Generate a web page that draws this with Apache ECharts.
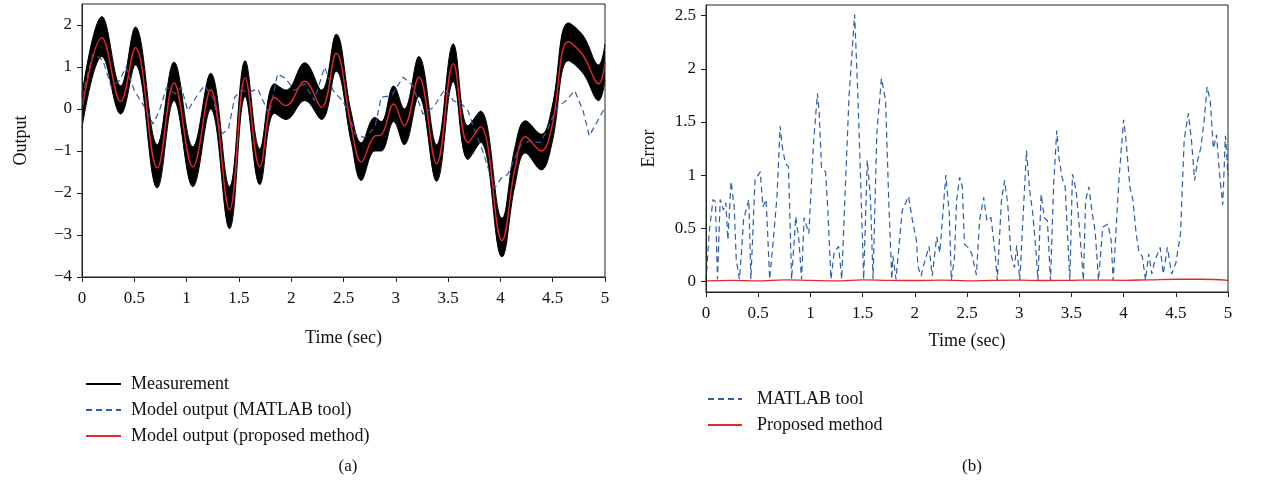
<!DOCTYPE html>
<html>
<head>
<meta charset="utf-8">
<script src="https://cdn.jsdelivr.net/npm/echarts@6/dist/echarts.min.js"></script>
<style>
  html, body { margin: 0; padding: 0; background: #fff; }
  #chart { width: 1269px; height: 490px; }
</style>
</head>
<body>
<div id="chart"></div>
<script>
// (a) key points of the proposed-method output and the measurement band around it
const tOut = [0, 0.19, 0.37, 0.51, 0.72, 0.88, 1.06, 1.23, 1.41, 1.56, 1.70, 1.84, 1.95, 2.13, 2.29, 2.43,
  2.575, 2.67, 2.80, 2.86, 2.98, 3.08, 3.22, 3.39, 3.55, 3.69, 3.81, 4.015, 4.14, 4.24, 4.39, 4.49,
  4.65, 4.79, 4.94, 5.0]
const proposedOut = [0, 1.70, 0.18, 1.46, -1.40, 0.62, -1.38, 0.46, -2.40, 0.74, -1.38, 0.28, 0.08, 0.66, 0.04, 1.32,
  -0.44, -1.26, -0.64, -0.62, 0.12, -0.40, 0.76, -1.30, 1.08, -0.80, -0.42, -3.13, -1.40, -0.66, -1.00, -0.44,
  1.60, 1.28, 0.60, 1.12]
const measHi = [0.35, 2.2, 0.55, 1.95, -0.85, 1.12, -0.9, 0.85, -1.85, 1.15, -0.95, 0.6, 0.45, 1.1, 0.45, 1.78,
  -0.1, -0.8, -0.2, -0.3, 0.55, 0.0, 1.25, -0.85, 1.55, -0.4, -0.05, -2.6, -0.9, -0.28, -0.6, 0.0,
  2.05, 1.75, 1.05, 1.55]
const measLo = [-0.45, 1.25, -0.12, 1.05, -1.88, 0.2, -1.85, 0.0, -2.85, 0.3, -1.8, -0.1, -0.25, 0.2, -0.25, 0.9,
  -0.8, -1.7, -1.0, -1.0, -0.3, -0.85, 0.3, -1.72, 0.65, -1.2, -0.8, -3.52, -1.8, -1.05, -1.45, -0.85,
  1.15, 0.85, 0.2, 0.7]

// (a) MATLAB tool model output
const tMatlab = [0, 0.105, 0.20, 0.28, 0.36, 0.42, 0.50, 0.60, 0.68, 0.74, 0.81, 0.89, 0.95, 1.01, 1.09, 1.17,
  1.25, 1.33, 1.40, 1.46, 1.52, 1.60, 1.68, 1.73, 1.79, 1.87, 1.95, 2.03, 2.13, 2.22, 2.32, 2.40, 2.49,
  2.54, 2.61, 2.70, 2.80, 2.86, 2.96, 3.07, 3.16, 3.26, 3.36, 3.47, 3.55, 3.63, 3.69, 3.75, 3.83, 3.945,
  4.01, 4.07, 4.14, 4.20, 4.28, 4.38, 4.46, 4.54, 4.63, 4.71, 4.79, 4.85, 4.93, 5.0]
const matlabOut = [0.28, 1.32, 1.16, 0.52, 0.68, 1.0, 0.44, 0.04, -0.36, -0.04, 0.52, 0.36, 0.52, -0.04, 0.28, 0.56,
  0.28, -0.6, -0.48, 0.28, 0.44, 0.40, 0.48, 0.2, -0.12, 0.84, 0.72, 0.44, 0.6, 0.2, 1.0, 0.44, 0.2,
  -0.04, -0.6, -0.68, -0.44, 0.28, 0.32, 0.76, 0.56, -0.12, 0.04, 0.48, 0.2, 0.12, -0.04, -0.48, -1.0, -1.88,
  -1.64, -1.56, -1.16, -0.84, -0.76, -0.8, -0.44, 0.04, 0.2, 0.44, -0.04, -0.64, -0.28, 0.04]

// (b) error of the MATLAB tool model
const tErr = [0, 0.03, 0.067, 0.09, 0.11, 0.136, 0.167, 0.19, 0.21, 0.24, 0.27, 0.29, 0.32, 0.34, 0.36, 0.41, 0.43,
  0.47, 0.52, 0.545, 0.576, 0.61, 0.65, 0.68, 0.71, 0.73, 0.76, 0.79, 0.82, 0.86, 0.89, 0.915, 0.94, 0.985,
  1.03, 1.067, 1.085, 1.106, 1.145, 1.167, 1.197, 1.227, 1.27, 1.30, 1.33, 1.37, 1.424, 1.455, 1.485, 1.51,
  1.545, 1.576, 1.60, 1.636, 1.68, 1.72, 1.75, 1.78, 1.79, 1.82, 1.88, 1.94, 1.976, 2.015, 2.03, 2.06, 2.09,
  2.136, 2.167, 2.21, 2.24, 2.297, 2.33, 2.35, 2.38, 2.40, 2.43, 2.455, 2.476, 2.51, 2.545, 2.59, 2.62, 2.66,
  2.69, 2.73, 2.77, 2.79, 2.83, 2.86, 2.89, 2.92, 2.955, 2.976, 3.006, 3.03, 3.07, 3.10, 3.13, 3.16, 3.18,
  3.21, 3.24, 3.27, 3.30, 3.33, 3.36, 3.38, 3.41, 3.44, 3.485, 3.51, 3.545, 3.576, 3.615, 3.636, 3.667,
  3.70, 3.727, 3.76, 3.80, 3.85, 3.88, 3.90, 3.955, 4.0, 4.02, 4.06, 4.09, 4.12, 4.145, 4.18, 4.21, 4.24,
  4.27, 4.30, 4.35, 4.38, 4.42, 4.46, 4.5, 4.545, 4.58, 4.62, 4.65, 4.68, 4.71, 4.74, 4.77, 4.80, 4.83,
  4.86, 4.89, 4.92, 4.95, 4.975, 5.0]
const errMatlab = [0, 0.45, 0.77, 0.75, 0.02, 0.77, 0.67, 0.74, 0.39, 0.94, 0.70, 0.2, 0.02, 0.27, 0.58, 0.77, 0.02,
  0.96, 1.03, 0.70, 0.77, 0.02, 0.45, 0.8, 1.46, 1.27, 1.11, 1.08, 0.02, 0.61, 0.39, 0.02, 0.6, 0.45,
  1.30, 1.77, 1.58, 1.07, 1.03, 0.67, 0.02, 0.27, 0.33, 0.02, 0.77, 1.74, 2.51, 1.74, 0.83, 0.02,
  1.14, 0.77, 0.02, 1.39, 1.91, 1.71, 0.77, 0.02, 0.24, 0.02, 0.67, 0.8, 0.58, 0.39, 0.14, 0.05, 0.17,
  0.33, 0.05, 0.42, 0.27, 1.0, 0.64, 0.01, 0.23, 0.76, 0.98, 0.89, 0.35, 0.32, 0.26, 0.06, 0.57, 0.79,
  0.57, 0.6, 0.26, 0.01, 0.76, 0.95, 0.73, 0.26, 0.13, 0.34, 0.01, 0.48, 1.23, 0.86, 0.64, 0.29, 0.01,
  0.82, 0.6, 0.57, 0.01, 0.92, 1.42, 1.17, 0.98, 0.89, 0.01, 1.01, 0.86, 0.51, 0.01, 0.76, 0.89,
  0.64, 0.48, 0.01, 0.51, 0.54, 0.39, 0.01, 0.95, 1.52, 1.36, 0.89, 0.76, 0.45, 0.29, 0.23, 0.01, 0.26,
  0.07, 0.2, 0.32, 0.07, 0.32, 0.07, 0.17, 0.45, 1.33, 1.58, 1.33, 0.95, 1.14, 1.26, 1.5, 1.83, 1.7,
  1.25, 1.38, 1.0, 0.72, 1.37, 1.0]

// (b) error of the proposed method
const tErrProposed = [0, 0.25, 0.5, 0.75, 1.0, 1.25, 1.5, 1.75, 2.0, 2.25, 2.5, 2.75, 3.0, 3.25, 3.5, 3.75,
  4.0, 4.25, 4.5, 4.75, 5.0]
const errProposed = [0.005, 0.01, 0.005, 0.015, 0.01, 0.005, 0.015, 0.01, 0.008, 0.012, 0.005, 0.01, 0.012,
  0.008, 0.01, 0.012, 0.01, 0.015, 0.02, 0.02, 0.01]

// tick labels
const timeTicks = [0, 0.5, 1, 1.5, 2, 2.5, 3, 3.5, 4, 4.5, 5]
const outputTicks = [-4, -3, -2, -1, 0, 1, 2]
const errorTicks = [0, 0.5, 1, 1.5, 2, 2.5]

const FONT = '"Liberation Serif", "DejaVu Serif", serif'
const BLUE = '#2d5dab'
const RED = '#e8262b'

function zip(xs, ys) {
  return xs.map((x, i) => [x, ys[i]])
}

function minusSign(v) {
  return String(v).replace('-', '\u2212')
}

function xAxisFor(gridIndex, nameGap) {
  return {
    type: 'value', gridIndex: gridIndex, min: 0, max: 5, interval: 0.5, z: 5,
    name: 'Time (sec)', nameLocation: 'middle', nameGap: nameGap,
    nameTextStyle: { fontFamily: FONT, fontSize: 18, color: '#111' },
    axisLine: { onZero: false, lineStyle: { color: '#222', width: 1 } },
    axisTick: { inside: false, length: 5, lineStyle: { color: '#222' }, customValues: timeTicks },
    axisLabel: { fontFamily: FONT, fontSize: 17, color: '#111', margin: 13, customValues: timeTicks },
    splitLine: { show: false }
  }
}

function yAxisFor(gridIndex, min, max, ticks, name, nameGap) {
  return {
    type: 'value', gridIndex: gridIndex, min: min, max: max, z: 5,
    name: name, nameLocation: 'middle', nameGap: nameGap,
    nameTextStyle: { fontFamily: FONT, fontSize: 18, color: '#111' },
    axisLine: { show: true, onZero: false, lineStyle: { color: '#222', width: 1 } },
    axisTick: { inside: false, length: 5, lineStyle: { color: '#222' }, customValues: ticks },
    axisLabel: { fontFamily: FONT, fontSize: 17, color: '#111', margin: 10, customValues: ticks, formatter: minusSign },
    splitLine: { show: false }
  }
}

const legendCommon = {
  orient: 'vertical', itemHeight: 14, itemGap: 8,
  itemStyle: { opacity: 0 },
  textStyle: { fontFamily: FONT, fontSize: 18, color: '#111' }
}

const chart = echarts.init(document.getElementById('chart'))

chart.setOption({
  animation: false,
  backgroundColor: '#fff',
  title: [
    { text: '(a)', left: 343, top: 453, textAlign: 'center', textStyle: { fontFamily: FONT, fontSize: 17, fontWeight: 'normal', color: '#111' } },
    { text: '(b)', left: 967, top: 453, textAlign: 'center', textStyle: { fontFamily: FONT, fontSize: 17, fontWeight: 'normal', color: '#111' } }
  ],
  grid: [
    { left: 82, top: 4, width: 523, height: 273, show: true, z: 5, borderColor: '#222', borderWidth: 1, backgroundColor: 'transparent' },
    { left: 706, top: 5, width: 522, height: 287, show: true, z: 5, borderColor: '#222', borderWidth: 1, backgroundColor: 'transparent' }
  ],
  xAxis: [xAxisFor(0, 52), xAxisFor(1, 40)],
  yAxis: [
    yAxisFor(0, -4, 2.5, outputTicks, 'Output', 52),
    yAxisFor(1, -0.1, 2.6, errorTicks, 'Error', 48)
  ],
  legend: [
    Object.assign({}, legendCommon, {
      left: 80, top: 370, itemWidth: 35,
      textStyle: Object.assign({}, legendCommon.textStyle, { padding: [0, 0, 0, 5] }),
      data: ['Measurement', 'Model output (MATLAB tool)', 'Model output (proposed method)']
    }),
    Object.assign({}, legendCommon, {
      left: 702, top: 385, itemWidth: 34,
      textStyle: Object.assign({}, legendCommon.textStyle, { padding: [0, 0, 0, 10] }),
      data: ['MATLAB tool', 'Proposed method']
    })
  ],
  series: [
    // measurement band: black fill under the upper edge, white fill under the lower edge
    {
      name: 'Measurement', type: 'line', xAxisIndex: 0, yAxisIndex: 0, z: 1,
      smooth: 0.4, showSymbol: false, symbol: 'none',
      lineStyle: { color: '#000', width: 1 }, itemStyle: { color: '#000' },
      areaStyle: { color: '#000', opacity: 1, origin: 'start' },
      data: zip(tOut, measHi)
    },
    {
      name: 'Measurement', type: 'line', xAxisIndex: 0, yAxisIndex: 0, z: 2,
      smooth: 0.4, showSymbol: false, symbol: 'none',
      lineStyle: { color: '#000', width: 1 }, itemStyle: { color: '#000' },
      areaStyle: { color: '#fff', opacity: 1, origin: 'start' },
      data: zip(tOut, measLo)
    },
    {
      name: 'Model output (MATLAB tool)', type: 'line', xAxisIndex: 0, yAxisIndex: 0, z: 3,
      showSymbol: false, symbol: 'none',
      lineStyle: { color: BLUE, width: 1.2, type: [6, 4] }, itemStyle: { color: BLUE },
      data: zip(tMatlab, matlabOut)
    },
    {
      name: 'Model output (proposed method)', type: 'line', xAxisIndex: 0, yAxisIndex: 0, z: 4,
      smooth: 0.4, showSymbol: false, symbol: 'none',
      lineStyle: { color: RED, width: 1.4 }, itemStyle: { color: RED },
      data: zip(tOut, proposedOut)
    },
    {
      name: 'MATLAB tool', type: 'line', xAxisIndex: 1, yAxisIndex: 1, z: 3,
      showSymbol: false, symbol: 'none',
      lineStyle: { color: BLUE, width: 1.2, type: [6, 4] }, itemStyle: { color: BLUE },
      data: zip(tErr, errMatlab)
    },
    {
      name: 'Proposed method', type: 'line', xAxisIndex: 1, yAxisIndex: 1, z: 4,
      smooth: 0.4, showSymbol: false, symbol: 'none',
      lineStyle: { color: RED, width: 1.3 }, itemStyle: { color: RED },
      data: zip(tErrProposed, errProposed)
    }
  ]
})
</script>
</body>
</html>
